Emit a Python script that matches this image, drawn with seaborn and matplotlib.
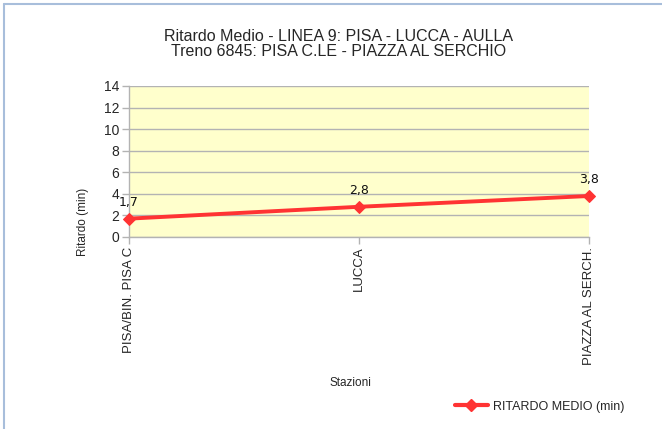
import matplotlib
matplotlib.use("Agg")
import matplotlib.pyplot as plt
import seaborn as sns
import pandas as pd
from matplotlib.lines import Line2D

stations = ["PISA/BIN. PISA C", "LUCCA", "PIAZZA AL SERCH."]
ritardo = [1.7, 2.8, 3.8]
labels = ["1,7", "2,8", "3,8"]
yticks = [0, 2, 4, 6, 8, 10, 12, 14]

sns.set_theme(style="white")
plt.rcParams['font.family'] = ['Liberation Sans', 'DejaVu Sans']

df = pd.DataFrame({"Stazioni": stations, "Ritardo": ritardo, "x": range(len(stations))})

fig = plt.figure(figsize=(6.62, 4.29), dpi=100)
ax = fig.add_axes([0.195, 0.4476, 0.695, 0.352])
ax.set_facecolor("#ffffcc")

sns.lineplot(data=df, x="x", y="Ritardo", ax=ax, color="#ff3333", linewidth=2.8,
             marker="D", markersize=6.5, markeredgecolor="#ff3333", zorder=3, clip_on=False)

ax.set_xlim(0, len(stations) - 1)
ax.set_ylim(0, 14)
ax.set_yticks(yticks)
ax.set_yticklabels([str(v) for v in yticks], fontsize=10)
ax.set_xticks(range(len(stations)))
ax.set_xticklabels(stations, rotation=90, fontsize=9.5, va="top")
ax.yaxis.grid(True, color="#b3b3b3", linewidth=1)
ax.xaxis.grid(False)
for s in ["top", "right"]:
    ax.spines[s].set_visible(False)
for s in ["left", "bottom"]:
    ax.spines[s].set_color("#b3b3b3")
    ax.spines[s].set_linewidth(1)
ax.tick_params(axis="both", which="both", length=5, width=1, color="#b3b3b3", pad=2, direction="out",
               left=True, bottom=True)
ax.set_xlabel("")
ax.set_ylabel("")

for i, (v, t) in enumerate(zip(ritardo, labels)):
    ax.annotate(t, (i, v), xytext=(0, 7), textcoords="offset points", ha="center", va="bottom",
                fontsize=9, family="DejaVu Sans", color="#111111")

fig.text(0.511, 0.897, "Ritardo Medio - LINEA 9: PISA - LUCCA - AULLA\nTreno 6845: PISA C.LE - PIAZZA AL SERCHIO",
         ha="center", va="center", fontsize=11.5, linespacing=1.05)
fig.text(0.125, 0.482, "Ritardo (min)", rotation=90, ha="center", va="center", fontsize=8.5)
fig.text(0.529, 0.107, "Stazioni", ha="center", va="center", fontsize=8.5)

h = Line2D([], [], color="#ff3333", linewidth=3, marker="D", markersize=6)
fig.legend([h], ["RITARDO MEDIO (min)"], loc="center", bbox_to_anchor=(0.815, 0.052),
           frameon=False, fontsize=9, handlelength=2.6, handletextpad=0.4)

fig.add_artist(Line2D([0.006, 0.006], [0, 0.99], transform=fig.transFigure, color="#a8bedb", linewidth=1.5))
fig.add_artist(Line2D([0.006, 1], [0.99, 0.99], transform=fig.transFigure, color="#a8bedb", linewidth=1.5))

fig.savefig("out.png", dpi=100)
